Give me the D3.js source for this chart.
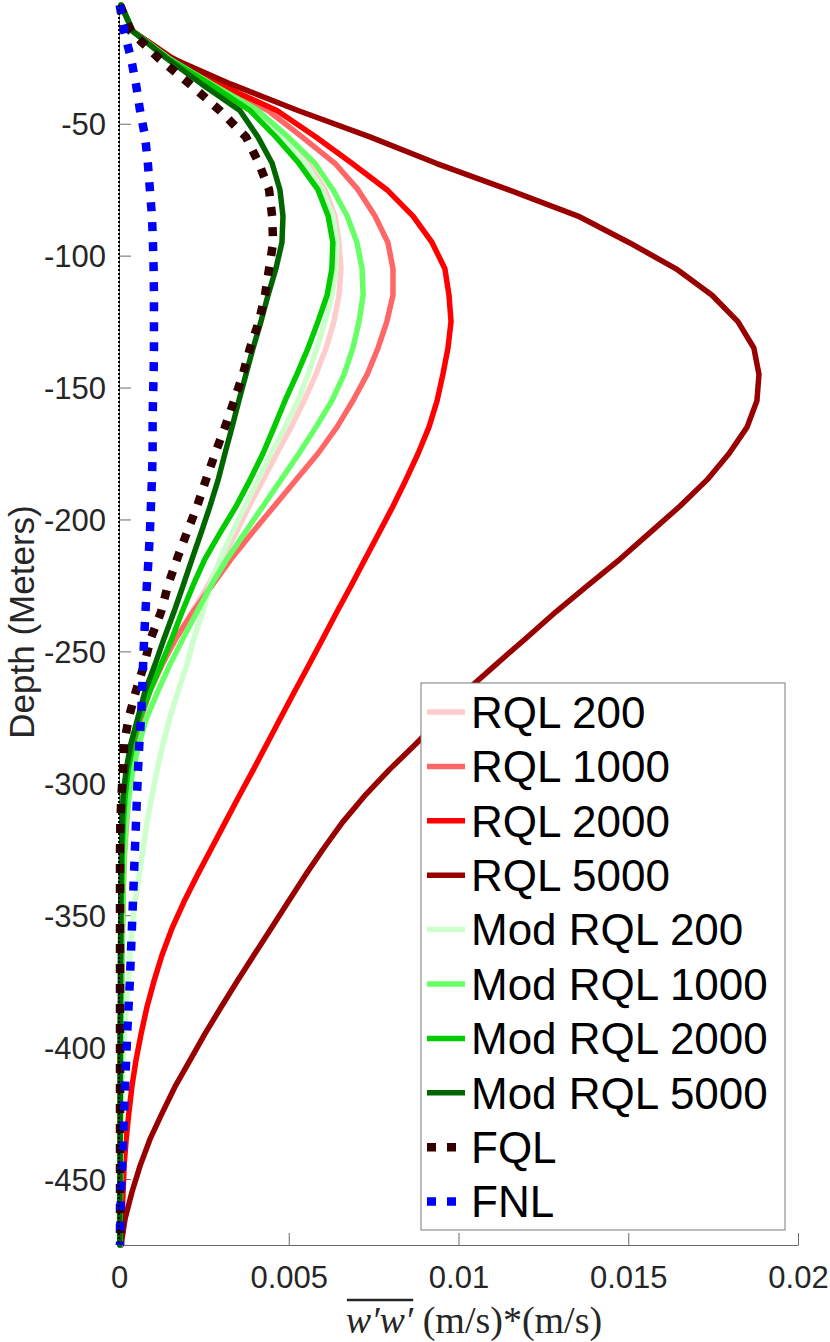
<!DOCTYPE html>
<html><head><meta charset="utf-8">
<script src="https://cdn.jsdelivr.net/npm/d3@7"></script>
<style>html,body{margin:0;padding:0;background:#fff;} svg{display:block;}</style>
</head><body><svg id="chart" width="830" height="1342"></svg>
<script>
// Depth grid (m)
const depths = [-5,-15,-25,-35,-45,-55,-65,-75,-85,-95,-105,-115,-125,-135,-145,-155,-165,-175,-185,-195,-205,-215,-225,-235,-245,-255,-265,-275,-285,-295,-305,-315,-325,-335,-345,-355,-365,-375,-385,-395,-405,-415,-425,-435,-445,-455,-465,-475];
// w'w' values, read in units of 1e-3 (m/s)*(m/s)
const rql200 = [0.06,0.41,1.44,2.68,4.09,4.89,5.57,6.07,6.36,6.48, 6.54,6.48,6.33,6.10,5.80,5.45,5.07,4.65,4.24,3.83, 3.45,3.03,2.62,2.15,1.68,1.27,0.91,0.68,0.50,0.38, 0.29,0.24,0.18,0.15,0.12,0.10,0.09,0.07,0.07,0.06, 0.05,0.05,0.04,0.04,0.04,0.04,0.03,0.03];
const rql1000 = [0.06,0.41,1.50,2.89,4.39,5.39,6.36,7.04,7.54,7.92, 8.07,8.07,7.89,7.63,7.31,6.89,6.42,5.86,5.21,4.57, 3.92,3.30,2.74,2.18,1.68,1.27,0.91,0.65,0.47,0.35, 0.27,0.21,0.16,0.13,0.12,0.10,0.09,0.08,0.07,0.07, 0.06,0.05,0.05,0.04,0.04,0.04,0.04,0.03];
const rql2000 = [0.06,0.41,1.56,2.95,4.65,5.80,6.86,7.89,8.66,9.22, 9.60,9.72,9.78,9.69,9.54,9.37,9.13,8.81,8.45,8.07, 7.66,7.25,6.84,6.42,6.01,5.60,5.18,4.77,4.36,3.95, 3.53,3.12,2.71,2.30,1.91,1.56,1.27,1.03,0.82,0.65, 0.50,0.38,0.29,0.21,0.15,0.12,0.09,0.06];
const rql5000 = [0.06,0.41,1.53,3.30,5.27,7.39,9.34,11.46,13.52,15.02, 16.41,17.47,18.23,18.70,18.85,18.79,18.50,17.97,17.32,16.52, 15.64,14.76,13.81,12.87,11.99,11.10,10.22,9.51,8.75,7.95, 7.22,6.57,6.01,5.48,4.98,4.48,3.98,3.48,3.00,2.53, 2.09,1.65,1.27,0.91,0.62,0.38,0.18,0.06];
const modRql200 = [0.06,0.41,1.44,2.62,4.01,4.80,5.48,5.98,6.30,6.42, 6.39,6.27,6.07,5.83,5.57,5.27,4.89,4.48,4.09,3.71, 3.33,2.98,2.68,2.47,2.21,2.00,1.74,1.50,1.30,1.12, 0.97,0.82,0.71,0.59,0.47,0.38,0.32,0.27,0.21,0.16, 0.12,0.09,0.07,0.06,0.05,0.04,0.035,0.03];
const modRql1000 = [0.06,0.41,1.44,2.74,4.09,4.98,5.77,6.30,6.72,7.01, 7.16,7.19,7.07,6.89,6.63,6.27,5.80,5.30,4.77,4.24, 3.71,3.18,2.71,2.30,1.89,1.50,1.15,0.82,0.59,0.41, 0.29,0.21,0.16,0.13,0.12,0.10,0.09,0.08,0.07,0.06, 0.06,0.05,0.05,0.04,0.04,0.04,0.03,0.03];
const modRql2000 = [0.06,0.41,1.41,2.68,3.86,4.62,5.30,5.86,6.16,6.30, 6.27,6.13,5.86,5.57,5.24,4.89,4.57,4.24,3.86,3.45, 2.98,2.53,2.18,1.86,1.56,1.24,0.91,0.62,0.41,0.27, 0.18,0.13,0.10,0.09,0.07,0.06,0.06,0.05,0.05,0.04, 0.04,0.04,0.04,0.03,0.03,0.03,0.03,0.03];
const modRql5000 = [0.06,0.41,1.38,2.44,3.56,4.09,4.51,4.74,4.83,4.80, 4.62,4.39,4.18,3.95,3.74,3.53,3.33,3.12,2.92,2.68, 2.42,2.15,1.89,1.62,1.33,1.06,0.77,0.56,0.35,0.21, 0.12,0.09,0.07,0.06,0.05,0.05,0.04,0.04,0.04,0.03, 0.03,0.03,0.03,0.03,0.03,0.02,0.02,0.02];
const fql = [0.03,0.35,1.15,2.09,2.97,3.74,4.12,4.42,4.51,4.54, 4.42,4.30,4.12,3.86,3.65,3.39,3.12,2.83,2.56,2.30, 2.00,1.71,1.44,1.24,0.94,0.74,0.50,0.29,0.15,0.12, 0.07,0.04,0.03,0.03,0.03,0.03,0.03,0.03,0.03,0.03, 0.03,0.03,0.03,0.03,0.03,0.03,0.03,0.03];
const fnl = [0.02,0.15,0.35,0.50,0.62,0.77,0.85,0.91,0.97,1.00, 1.02,1.03,1.03,1.03,1.02,1.00,0.99,0.99,0.97,0.94, 0.91,0.87,0.82,0.78,0.74,0.71,0.68,0.65,0.60,0.56, 0.53,0.50,0.47,0.44,0.41,0.38,0.35,0.32,0.28,0.24, 0.21,0.18,0.15,0.12,0.09,0.06,0.04,0.03];

const seriesNames = ["RQL 200","RQL 1000","RQL 2000","RQL 5000","Mod RQL 200","Mod RQL 1000","Mod RQL 2000","Mod RQL 5000","FQL","FNL"];
const seriesValues = [rql200,rql1000,rql2000,rql5000,modRql200,modRql1000,modRql2000,modRql5000,fql,fnl];
const xTicks = [0,0.005,0.01,0.015,0.02];
const yTicks = [-50,-100,-150,-200,-250,-300,-350,-400,-450];

// styles
const colors = ["#ffcccc","#ff6666","#ff0000","#990000","#ccffcc","#66ff66","#00cc00","#006600","#330000","#0000ff"];
const dotted = [false,false,false,false,false,false,false,false,true,true];
const SANS = "'Liberation Sans', Arial, Helvetica, sans-serif";
const SERIF = "'Liberation Serif', 'Times New Roman', serif";

const svg = d3.select("#chart");
const x = d3.scaleLinear().domain([0,0.02]).range([119,798]);
const y = d3.scaleLinear().domain([-475,-5]).range([1245,5]);

const series = seriesNames.map((name,i)=>({
  name, color: colors[i], dotted: dotted[i],
  points: depths.map((d,j)=>({depth:d, value: seriesValues[i][j]*1e-3}))
}));

// axes
const axisColor = "#6b6b6b";
const gx = svg.append("g").attr("transform","translate(0,1245)")
  .call(d3.axisBottom(x).tickValues(xTicks).tickSize(-12).tickSizeOuter(0).tickFormat(d=>String(d)));
const gy = svg.append("g").attr("transform","translate(119,0)")
  .call(d3.axisLeft(y).tickValues(yTicks).tickSize(-12).tickSizeOuter(0).tickFormat(d=>String(d)));
[gx,gy].forEach(g=>{
  g.select(".domain").attr("stroke",axisColor).attr("stroke-width",1);
  g.selectAll(".tick line").attr("stroke",axisColor).attr("stroke-width",1);
  g.selectAll(".tick text").attr("fill","#262626").style("font-family",SANS).style("font-size","31px");
});
gx.selectAll(".tick text").attr("y",32).attr("dy","0.36em");
gy.selectAll(".tick text").attr("x",-13).attr("dy","0.36em");

// lines
const line = d3.line().x(d=>x(d.value)).y(d=>y(d.depth));
svg.append("g").selectAll("path").data(series).join("path")
  .attr("d",d=>line(d.points))
  .attr("fill","none")
  .attr("stroke",d=>d.color)
  .attr("stroke-width",d=>d.dotted?8.5:5.5)
  .attr("stroke-dasharray",d=>d.dotted?"9,11":null)
  .attr("stroke-linejoin","round")
  .attr("stroke-linecap",d=>d.dotted?"butt":"round");

// zero reference line
svg.append("line")
  .attr("x1",x(0)).attr("x2",x(0)).attr("y1",y(-5)).attr("y2",y(-475))
  .attr("stroke","#000").attr("stroke-width",2).attr("stroke-dasharray","2,2");

// y label
svg.append("text").attr("transform","translate(34,622) rotate(-90)")
  .attr("text-anchor","middle").attr("fill","#262626")
  .style("font-family",SANS).style("font-size","35px").text("Depth (Meters)");

// x label
const xl = svg.append("text").attr("x",474).attr("y",1333).attr("text-anchor","middle")
  .attr("fill","#262626").style("font-family",SERIF).style("font-size","38px");
xl.append("tspan").style("font-style","italic").text("w\u2032w\u2032");
xl.append("tspan").text(" (m/s)*(m/s)");
const node = xl.node();
const e0 = node.getExtentOfChar(0), e3 = node.getExtentOfChar(3);
svg.append("line").attr("x1",e0.x+1).attr("x2",e3.x+e3.width).attr("y1",1300).attr("y2",1300)
  .attr("stroke","#262626").attr("stroke-width",2.5);

// legend
const lg = svg.append("g");
lg.append("rect").attr("x",421).attr("y",683).attr("width",364).attr("height",547)
  .attr("fill","#fff").attr("stroke","#7a7a7a").attr("stroke-width",1);
const rows = lg.selectAll("g.row").data(series).join("g").attr("class","row")
  .attr("transform",(d,i)=>`translate(0,${712+i*54.4})`);
rows.append("line").attr("x1",427).attr("x2",465).attr("y1",0).attr("y2",0)
  .attr("stroke",d=>d.color).attr("stroke-width",d=>d.dotted?8.5:5.5)
  .attr("stroke-dasharray",d=>d.dotted?"9,11":null);
rows.append("text").attr("x",471).attr("y",0).attr("dy","0.36em")
  .attr("fill","#000").style("font-family",SANS).style("font-size","44px").text(d=>d.name);
</script></body></html>
